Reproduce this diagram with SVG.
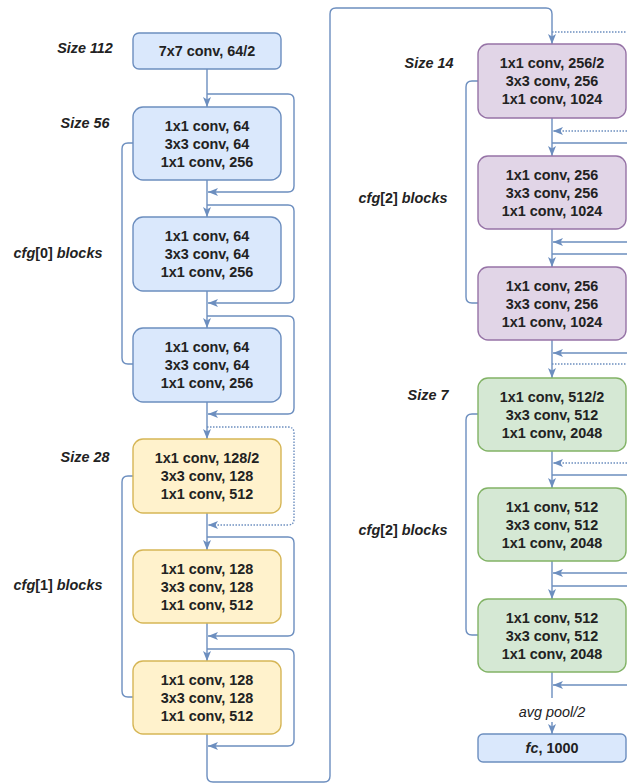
<svg xmlns="http://www.w3.org/2000/svg" width="627" height="783" viewBox="0 0 627 783">
<defs>
<marker id="arr" viewBox="0 0 10 8" refX="10" refY="4" markerWidth="10" markerHeight="8" markerUnits="userSpaceOnUse" orient="auto">
<path d="M0,0 L10,4 L0,8 L2.5,4 z" fill="#6c8ebf"/>
</marker>
<style>
.c{fill:none;stroke:#6c8ebf;stroke-width:1.4}
.a{marker-end:url(#arr)}
.d{stroke-dasharray:1.5 1.5}
.blue{fill:#dae8fc;stroke:#6c8ebf;stroke-width:1.4}
.yel{fill:#fff2cc;stroke:#d6b656;stroke-width:1.4}
.pur{fill:#e1d5e7;stroke:#9673a6;stroke-width:1.4}
.grn{fill:#d5e8d4;stroke:#82b366;stroke-width:1.4}
text{font-family:"Liberation Sans",Arial,sans-serif;font-size:14.4px;fill:#222}
.t{font-weight:bold;text-anchor:middle}
.l{font-weight:bold;font-style:italic;text-anchor:middle}
.u{font-style:normal}
.i{font-style:italic}
</style>
</defs>
<rect width="627" height="783" fill="#fff"/>

<g id="connectors">
<!-- left column main -->
<path class="c a" d="M207,69 V107"/>
<path class="c a" d="M207,180 V217"/>
<path class="c a" d="M207,291 V328"/>
<path class="c a" d="M207,402 V439"/>
<path class="c a" d="M207,513 V550"/>
<path class="c a" d="M207,623 V661"/>
<!-- left skips -->
<path class="c a" d="M207,94 H288 Q294,94 294,100 V186 Q294,192 288,192 H208"/>
<path class="c a" d="M207,205 H288 Q294,205 294,211 V297 Q294,303 288,303 H208"/>
<path class="c a" d="M207,316 H288 Q294,316 294,322 V408 Q294,414 288,414 H208"/>
<path class="c a d" d="M207,427 H288 Q294,427 294,433 V519 Q294,525 288,525 H208"/>
<path class="c a" d="M207,537 H288 Q294,537 294,543 V630 Q294,636 288,636 H208"/>
<path class="c a" d="M207,649 H288 Q294,649 294,655 V740 Q294,746 288,746 H208"/>
<!-- long connector -->
<path class="c a" d="M207,734 V776 Q207,782 213,782 H324 Q330,782 330,776 V14 Q330,8 336,8 H546 Q552,8 552,14 V44"/>
<!-- right column main -->
<path class="c a" d="M552,118 V156"/>
<path class="c a" d="M552,229 V267"/>
<path class="c a" d="M552,340 V378"/>
<path class="c a" d="M552,451 V488"/>
<path class="c a" d="M552,561 V599"/>
<path class="c" d="M552,672 V698"/>
<path class="c a" d="M552,722 V734"/>
<!-- right skips (continue off the right edge) -->
<path class="c a d" d="M552,32 H627 M627,131 H553"/>
<path class="c a" d="M552,143 H627 M627,242 H553"/>
<path class="c a" d="M552,254 H627 M627,353 H553"/>
<path class="c a d" d="M552,364 H627 M627,463 H553"/>
<path class="c a" d="M552,475 H627 M627,573 H553"/>
<path class="c a" d="M552,586 H627 M627,685 H553"/>
<!-- group brackets -->
<path class="c" d="M133,143 H128 Q122,143 122,149 V358 Q122,364 128,364 H133"/>
<path class="c" d="M133,476 H128 Q122,476 122,482 V691 Q122,697 128,697 H133"/>
<path class="c" d="M478,81 H472 Q466,81 466,87 V297 Q466,303 472,303 H478"/>
<path class="c" d="M478,414 H472 Q466,414 466,420 V629 Q466,635 472,635 H478"/>
<text x="552" y="717" style="font-style:italic;text-anchor:middle">avg pool/2</text>
</g>

<g id="labels">
<text class="l" x="85" y="53">Size 112</text>
<text class="l" x="85" y="128">Size 56</text>
<text class="l" x="58" y="258">cfg<tspan class="u">[0]</tspan> blocks</text>
<text class="l" x="85" y="462">Size 28</text>
<text class="l" x="58" y="590">cfg<tspan class="u">[1]</tspan> blocks</text>
<text class="l" x="429" y="68">Size 14</text>
<text class="l" x="403" y="203">cfg<tspan class="u">[2]</tspan> blocks</text>
<text class="l" x="428" y="400">Size 7</text>
<text class="l" x="403" y="535">cfg<tspan class="u">[2]</tspan> blocks</text>
</g>

<g id="conv1">
<rect class="blue" x="133" y="33" width="148" height="36" rx="6"/>
<text class="t" x="207" y="56">7x7 conv, 64/2</text>
</g>

<g id="b0_1">
<rect class="blue" x="133" y="107" width="148" height="73" rx="10"/>
<text class="t" x="207" y="131">1x1 conv, 64</text>
<text class="t" x="207" y="149">3x3 conv, 64</text>
<text class="t" x="207" y="167">1x1 conv, 256</text>
</g>
<g id="b0_2">
<rect class="blue" x="133" y="217" width="148" height="74" rx="10"/>
<text class="t" x="207" y="241">1x1 conv, 64</text>
<text class="t" x="207" y="259">3x3 conv, 64</text>
<text class="t" x="207" y="277">1x1 conv, 256</text>
</g>
<g id="b0_3">
<rect class="blue" x="133" y="328" width="148" height="74" rx="10"/>
<text class="t" x="207" y="352">1x1 conv, 64</text>
<text class="t" x="207" y="370">3x3 conv, 64</text>
<text class="t" x="207" y="388">1x1 conv, 256</text>
</g>

<g id="b1_1">
<rect class="yel" x="133" y="439" width="148" height="74" rx="10"/>
<text class="t" x="207" y="463">1x1 conv, 128/2</text>
<text class="t" x="207" y="481">3x3 conv, 128</text>
<text class="t" x="207" y="499">1x1 conv, 512</text>
</g>
<g id="b1_2">
<rect class="yel" x="133" y="550" width="148" height="73" rx="10"/>
<text class="t" x="207" y="574">1x1 conv, 128</text>
<text class="t" x="207" y="592">3x3 conv, 128</text>
<text class="t" x="207" y="610">1x1 conv, 512</text>
</g>
<g id="b1_3">
<rect class="yel" x="133" y="661" width="148" height="73" rx="10"/>
<text class="t" x="207" y="685">1x1 conv, 128</text>
<text class="t" x="207" y="703">3x3 conv, 128</text>
<text class="t" x="207" y="721">1x1 conv, 512</text>
</g>

<g id="b2_1">
<rect class="pur" x="478" y="44" width="148" height="74" rx="10"/>
<text class="t" x="552" y="68">1x1 conv, 256/2</text>
<text class="t" x="552" y="86">3x3 conv, 256</text>
<text class="t" x="552" y="104">1x1 conv, 1024</text>
</g>
<g id="b2_2">
<rect class="pur" x="478" y="156" width="148" height="73" rx="10"/>
<text class="t" x="552" y="180">1x1 conv, 256</text>
<text class="t" x="552" y="198">3x3 conv, 256</text>
<text class="t" x="552" y="216">1x1 conv, 1024</text>
</g>
<g id="b2_3">
<rect class="pur" x="478" y="267" width="148" height="73" rx="10"/>
<text class="t" x="552" y="291">1x1 conv, 256</text>
<text class="t" x="552" y="309">3x3 conv, 256</text>
<text class="t" x="552" y="327">1x1 conv, 1024</text>
</g>

<g id="b3_1">
<rect class="grn" x="478" y="378" width="148" height="73" rx="10"/>
<text class="t" x="552" y="402">1x1 conv, 512/2</text>
<text class="t" x="552" y="420">3x3 conv, 512</text>
<text class="t" x="552" y="438">1x1 conv, 2048</text>
</g>
<g id="b3_2">
<rect class="grn" x="478" y="488" width="148" height="73" rx="10"/>
<text class="t" x="552" y="512">1x1 conv, 512</text>
<text class="t" x="552" y="530">3x3 conv, 512</text>
<text class="t" x="552" y="548">1x1 conv, 2048</text>
</g>
<g id="b3_3">
<rect class="grn" x="478" y="599" width="148" height="73" rx="10"/>
<text class="t" x="552" y="623">1x1 conv, 512</text>
<text class="t" x="552" y="641">3x3 conv, 512</text>
<text class="t" x="552" y="659">1x1 conv, 2048</text>
</g>

<g id="fc">
<rect class="blue" x="478" y="734" width="148" height="28" rx="5"/>
<text class="t" x="552" y="753"><tspan class="i">fc</tspan>, 1000</text>
</g>
</svg>
